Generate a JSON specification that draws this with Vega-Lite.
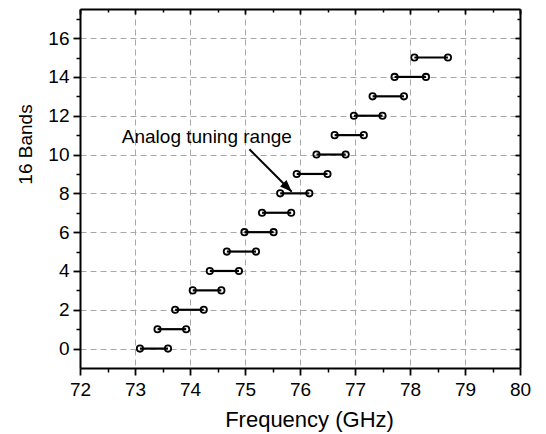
{
  "$schema": "https://vega.github.io/schema/vega-lite/v6.json",
  "autosize": "none",
  "width": 440,
  "height": 359,
  "padding": {"left": 80, "top": 9, "right": 26, "bottom": 66},
  "background": "white",
  "config": {"view": {"stroke": null}},
  "datasets": {
    "bands": [
      {"band": 0, "lo": 73.09, "hi": 73.60},
      {"band": 1, "lo": 73.41, "hi": 73.93},
      {"band": 2, "lo": 73.73, "hi": 74.25},
      {"band": 3, "lo": 74.05, "hi": 74.57},
      {"band": 4, "lo": 74.36, "hi": 74.89},
      {"band": 5, "lo": 74.67, "hi": 75.20},
      {"band": 6, "lo": 74.99, "hi": 75.52},
      {"band": 7, "lo": 75.31, "hi": 75.84},
      {"band": 8, "lo": 75.64, "hi": 76.17},
      {"band": 9, "lo": 75.94, "hi": 76.50},
      {"band": 10, "lo": 76.30, "hi": 76.83},
      {"band": 11, "lo": 76.63, "hi": 77.16},
      {"band": 12, "lo": 76.98, "hi": 77.50},
      {"band": 13, "lo": 77.32, "hi": 77.89},
      {"band": 14, "lo": 77.72, "hi": 78.29},
      {"band": 15, "lo": 78.08, "hi": 78.69}
    ],
    "note": [
      {"label": "Analog tuning range", "tx": 72.76, "ty": 10.61, "ax": 75.08, "ay": 10.27, "bx": 75.85, "by": 8.08}
    ]
  },
  "resolve": {"axis": {"x": "independent", "y": "independent"}},
  "layer": [
    {
      "data": {"name": "bands"},
      "mark": {"type": "rule", "color": "black", "strokeWidth": 2.2},
      "encoding": {
        "x": {
          "field": "lo", "type": "quantitative",
          "scale": {"domain": [72, 80], "nice": false, "zero": false},
          "axis": {
            "orient": "bottom", "values": [72, 73, 74, 75, 76, 77, 78, 79, 80],
            "grid": true, "gridDash": [6, 4], "gridColor": "#a8a8a8", "gridWidth": 1,
            "domain": true, "domainColor": "black", "domainWidth": 2,
            "ticks": true, "tickSize": 7, "tickWidth": 1.8, "tickColor": "black",
            "labelFont": "Liberation Sans", "labelFontSize": 19, "labelColor": "black",
            "labelPadding": 5, "labelFlush": false,
            "title": "Frequency (GHz)", "titleFont": "Liberation Sans", "titleFontSize": 22,
            "titleFontWeight": "normal", "titleColor": "black",
            "titleX": 229, "titleY": 58, "titleAlign": "center", "titleBaseline": "alphabetic"
          }
        },
        "x2": {"field": "hi"},
        "y": {
          "field": "band", "type": "quantitative",
          "scale": {"domain": [-1, 17.5], "nice": false, "zero": false},
          "axis": {
            "orient": "left", "values": [0, 2, 4, 6, 8, 10, 12, 14, 16],
            "grid": true, "gridDash": [6, 4], "gridColor": "#a8a8a8", "gridWidth": 1,
            "domain": true, "domainColor": "black", "domainWidth": 2,
            "ticks": true, "tickSize": 7, "tickWidth": 1.8, "tickColor": "black",
            "labelFont": "Liberation Sans", "labelFontSize": 19, "labelColor": "black",
            "labelPadding": 4,
            "title": "16 Bands", "titleFont": "Liberation Sans", "titleFontSize": 19,
            "titleFontWeight": "normal", "titleColor": "black",
            "titleAngle": 270, "titleX": -49, "titleY": 135, "titleAlign": "center", "titleBaseline": "alphabetic"
          }
        }
      }
    },
    {
      "data": {"name": "bands"},
      "mark": {"type": "point", "shape": "circle", "filled": false, "color": "black", "size": 40, "strokeWidth": 1.8, "opacity": 1},
      "encoding": {
        "x": {
          "field": "lo", "type": "quantitative",
          "axis": {
            "orient": "bottom", "values": [72.5, 73.5, 74.5, 75.5, 76.5, 77.5, 78.5, 79.5],
            "grid": false, "domain": false, "labels": false, "title": null,
            "ticks": true, "tickSize": 4, "tickWidth": 1.5, "tickColor": "black"
          }
        },
        "y": {
          "field": "band", "type": "quantitative",
          "axis": {
            "orient": "left", "values": [1, 3, 5, 7, 9, 11, 13, 15, 17],
            "grid": false, "domain": false, "labels": false, "title": null,
            "ticks": true, "tickSize": 4, "tickWidth": 1.5, "tickColor": "black"
          }
        }
      }
    },
    {
      "data": {"name": "bands"},
      "mark": {"type": "point", "shape": "circle", "filled": false, "color": "black", "size": 40, "strokeWidth": 1.8, "opacity": 1},
      "encoding": {
        "x": {
          "field": "hi", "type": "quantitative",
          "axis": {
            "orient": "top", "values": [72, 73, 74, 75, 76, 77, 78, 79, 80],
            "grid": false, "domain": true, "domainColor": "black", "domainWidth": 2,
            "labels": false, "title": null,
            "ticks": true, "tickSize": -5, "tickWidth": 1.8, "tickColor": "black"
          }
        },
        "y": {
          "field": "band", "type": "quantitative",
          "axis": {
            "orient": "right", "values": [0, 2, 4, 6, 8, 10, 12, 14, 16],
            "grid": false, "domain": true, "domainColor": "black", "domainWidth": 2,
            "labels": false, "title": null,
            "ticks": true, "tickSize": -5, "tickWidth": 1.8, "tickColor": "black"
          }
        }
      }
    },
    {
      "data": {"name": "note"},
      "mark": {"type": "rule", "color": "black", "strokeWidth": 2},
      "encoding": {
        "x": {
          "field": "ax", "type": "quantitative",
          "axis": {
            "orient": "top", "values": [72.5, 73.5, 74.5, 75.5, 76.5, 77.5, 78.5, 79.5],
            "grid": false, "domain": false, "labels": false, "title": null,
            "ticks": true, "tickSize": -3, "tickWidth": 1.5, "tickColor": "black"
          }
        },
        "x2": {"field": "bx"},
        "y": {
          "field": "ay", "type": "quantitative",
          "axis": {
            "orient": "right", "values": [1, 3, 5, 7, 9, 11, 13, 15, 17],
            "grid": false, "domain": false, "labels": false, "title": null,
            "ticks": true, "tickSize": -3, "tickWidth": 1.5, "tickColor": "black"
          }
        },
        "y2": {"field": "by"}
      }
    },
    {
      "data": {"name": "note"},
      "mark": {"type": "point", "shape": "M0,0L-0.38,1L0.38,1Z", "filled": true, "color": "black", "size": 576, "angle": 135, "opacity": 1},
      "encoding": {
        "x": {"field": "bx", "type": "quantitative", "axis": null},
        "y": {"field": "by", "type": "quantitative", "axis": null}
      }
    },
    {
      "data": {"name": "note"},
      "mark": {"type": "text", "font": "Liberation Sans", "fontSize": 19, "color": "black", "align": "left", "baseline": "alphabetic"},
      "encoding": {
        "x": {"field": "tx", "type": "quantitative", "axis": null},
        "y": {"field": "ty", "type": "quantitative", "axis": null},
        "text": {"field": "label"}
      }
    }
  ]
}
